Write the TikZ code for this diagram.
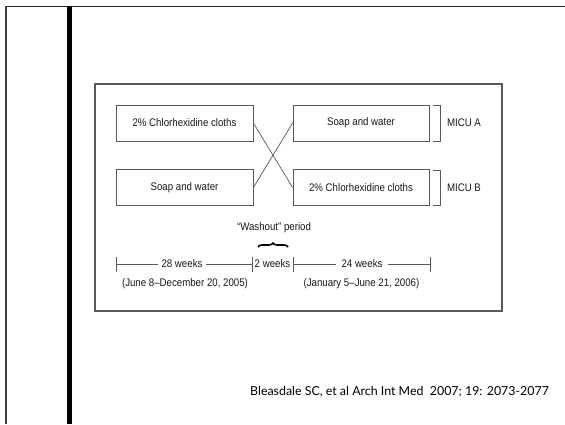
\documentclass[tikz,border=0pt]{standalone}
\usepackage{fontspec}
\setmainfont[FakeStretch=0.88]{Liberation Sans}
\newfontfamily\citefont{Lato}
\usetikzlibrary{decorations.pathreplacing}

\definecolor{linegray}{gray}{0.35}
\definecolor{textgray}{gray}{0.1}

\tikzset{
	armbox/.style={draw=linegray, line width=0.8pt, minimum width=137pt, minimum height=36pt, inner sep=0pt, text=textgray, font=\fontsize{11}{13}\selectfont},
	plain/.style={text=textgray, font=\fontsize{11}{13}\selectfont, inner sep=3pt},
	thin/.style={draw=linegray, line width=0.7pt}
}

\begin{document}
\begin{tikzpicture}[x=1pt, y=-1pt]
	
	\useasboundingbox (0,0) rectangle (565,424);
	\fill[white] (0,0) rectangle (565,424);
	
	% slide frame
	\draw[black!85, line width=1.8pt] (6,6.5) -- (565,6.5);
	\draw[black!75, line width=1.2pt] (6,6) -- (6,424);
	\fill[black] (67,6) rectangle (72,424);
	
	% figure frame
	\draw[black!65, line width=1.3pt] (95,84) rectangle (502,311);
	
	\node[armbox] (tl) at (184.5,123) {2\% Chlorhexidine cloths};
	\node[armbox] (bl) at (184.5,187.5) {Soap and water};
	\node[armbox, minimum width=136pt] (tr) at (361,123) {Soap and water};
	\node[armbox, minimum width=136pt] (br) at (361,187.5) {2\% Chlorhexidine cloths};
	
	\draw[thin] (tl.east) -- (br.west);
	\draw[thin] (bl.east) -- (tr.west);
	
	\node[plain] (ma) at (464,123) {MICU A};
	\node[plain] (mb) at (464,187.5) {MICU B};
	
	\draw[thin] (433,105) -- (440,105) -- (440,141) -- (433,141);
	\draw[thin] (433,170) -- (440,170) -- (440,205) -- (433,205);
	
	% timeline
	\node[plain] (wash) at (274,228) {``Washout'' period};
	\draw[black, line width=1.6pt, decorate, decoration={brace, amplitude=4pt}] (258,247) -- (288,247);
	
	\coordinate (t1) at (116,264);
	\coordinate (t2) at (252,264);
	\coordinate (t3) at (293,264);
	\coordinate (t4) at (430,264);
	
	\node[plain] (w28) at (182,264) {28 weeks};
	\node[plain, inner sep=1pt] (w2) at (272.5,264) {2 weeks};
	\node[plain, inner sep=5pt] (w24) at (362,264) {24 weeks};
	
	\draw[thin] (t1) -- (w28.west);
	\draw[thin] (w28.east) -- (t2);
	\draw[thin] (t3) -- (w24.west);
	\draw[thin] (w24.east) -- (t4);
	
	\draw[thin] (116,257) -- (116,272);
	\draw[thin] (252,257) -- (252,272);
	\draw[thin] (293,257) -- (293,272);
	\draw[thin] (430,257) -- (430,272);
	
	\node[plain] (d1) at (185,283.5) {(June 8--December 20, 2005)};
	\node[plain] (d2) at (361.5,283.5) {(January 5--June 21, 2006)};
	
	% reference
	\node[anchor=west, inner sep=0pt, font=\citefont\fontsize{12.4}{14}\selectfont] (cite) at (250,392) {Bleasdale SC, et al Arch Int Med~~2007; 19: 2073-2077};
	
\end{tikzpicture}
\end{document}
